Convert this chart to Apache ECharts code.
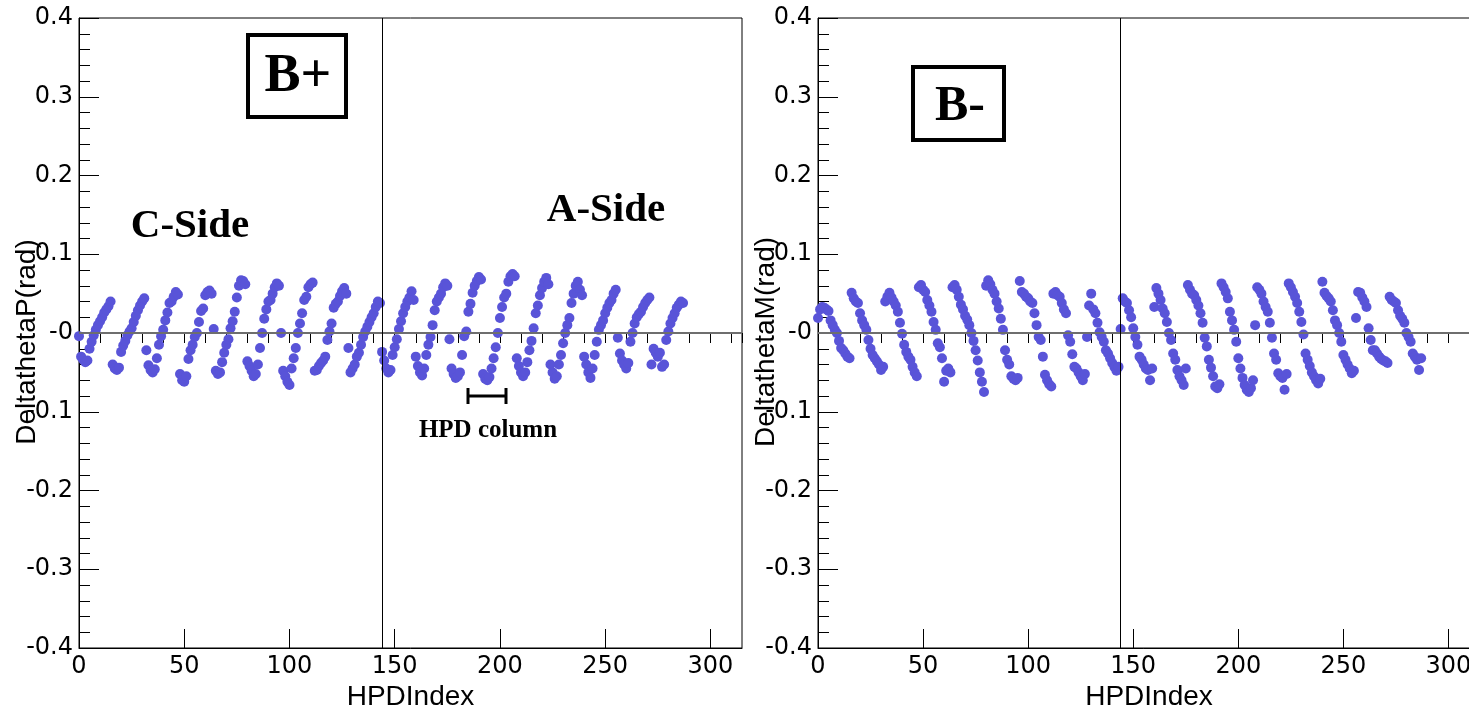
<!DOCTYPE html>
<html>
<head>
<meta charset="utf-8">
<script src="https://cdn.jsdelivr.net/npm/echarts@6/dist/echarts.min.js"></script>
<style>
  html, body { margin: 0; padding: 0; background: #fff; }
  #chart { width: 1469px; height: 714px; }
</style>
</head>
<body>
<div id="chart"></div>
<script>
// HPD alignment residuals, 288 HPDs (18 columns x 16 HPDs), one row per column
const deltaThetaP = [
  -0.004, -0.030, -0.034, -0.037, -0.035, -0.020, -0.011, -0.003, 0.004, 0.010, 0.015, 0.020, 0.026, 0.030, 0.034, 0.040,
  -0.040, -0.045, -0.047, -0.044, -0.024, -0.016, -0.010, -0.003, 0.002, 0.006, 0.014, 0.022, 0.029, 0.035, 0.040, 0.044,
  -0.022, -0.041, -0.047, -0.050, -0.046, -0.032, -0.015, -0.004, 0.004, 0.016, 0.026, 0.038, 0.040, 0.046, 0.052, 0.049,
  -0.052, -0.060, -0.062, -0.055, -0.033, -0.022, -0.015, -0.005, 0.000, 0.014, 0.028, 0.031, 0.048, 0.052, 0.054, 0.050,
  0.005, -0.048, -0.052, -0.050, -0.037, -0.025, -0.015, -0.008, 0.006, 0.015, 0.027, 0.045, 0.060, 0.067, 0.066, 0.062,
  -0.036, -0.042, -0.048, -0.055, -0.052, -0.040, -0.019, 0.000, 0.018, 0.030, 0.040, 0.042, 0.050, 0.058, 0.063, 0.060,
  0.000, -0.048, -0.055, -0.062, -0.066, -0.045, -0.032, -0.019, 0.000, 0.012, 0.025, 0.042, 0.046, 0.058, 0.062, 0.064,
  -0.048, -0.047, -0.042, -0.038, -0.035, -0.030, -0.009, 0.002, 0.012, 0.032, 0.037, 0.040, 0.047, 0.053, 0.057, 0.050,
  -0.019, -0.050, -0.045, -0.040, -0.030, -0.025, -0.015, -0.005, 0.002, 0.008, 0.014, 0.020, 0.025, 0.033, 0.040, 0.038,
  -0.024, -0.035, -0.045, -0.050, -0.047, -0.028, -0.018, -0.008, 0.005, 0.015, 0.025, 0.033, 0.040, 0.045, 0.053, 0.042,
  -0.030, -0.042, -0.050, -0.054, -0.045, -0.028, -0.015, -0.005, 0.010, 0.029, 0.040, 0.045, 0.050, 0.058, 0.063, 0.060,
  -0.008, -0.045, -0.052, -0.057, -0.055, -0.050, -0.028, -0.004, 0.002, 0.027, 0.037, 0.051, 0.060, 0.066, 0.071, 0.068,
  -0.052, -0.058, -0.060, -0.056, -0.045, -0.032, -0.018, 0.000, 0.019, 0.033, 0.045, 0.050, 0.065, 0.072, 0.075, 0.072,
  -0.032, -0.042, -0.050, -0.055, -0.050, -0.037, -0.022, -0.010, 0.006, 0.025, 0.035, 0.048, 0.057, 0.065, 0.070, 0.062,
  -0.040, -0.050, -0.058, -0.055, -0.040, -0.028, -0.013, 0.000, 0.010, 0.019, 0.038, 0.050, 0.060, 0.065, 0.055, 0.048,
  -0.030, -0.040, -0.050, -0.057, -0.045, -0.028, -0.011, 0.004, 0.010, 0.016, 0.025, 0.032, 0.038, 0.042, 0.050, 0.055,
  -0.006, -0.026, -0.035, -0.040, -0.045, -0.038, -0.011, 0.000, 0.012, 0.020, 0.024, 0.027, 0.033, 0.038, 0.042, 0.045,
  -0.040, -0.020, -0.025, -0.030, -0.025, -0.043, -0.040, -0.009, 0.002, 0.012, 0.019, 0.025, 0.032, 0.036, 0.040, 0.038
];

const deltaThetaM = [
  0.019, 0.030, 0.033, 0.032, 0.030, 0.028, 0.016, 0.010, 0.004, 0.000, -0.010, -0.019, -0.022, -0.026, -0.030, -0.032,
  0.051, 0.044, 0.040, 0.038, 0.025, 0.016, 0.010, 0.004, -0.009, -0.020, -0.028, -0.032, -0.036, -0.040, -0.047, -0.043,
  0.040, 0.046, 0.051, 0.045, 0.040, 0.035, 0.027, 0.013, -0.001, -0.015, -0.024, -0.030, -0.034, -0.043, -0.050, -0.055,
  0.058, 0.061, 0.055, 0.052, 0.042, 0.035, 0.027, 0.014, 0.004, -0.013, -0.018, -0.032, -0.062, -0.048, -0.045, -0.050,
  0.058, 0.061, 0.055, 0.046, 0.036, 0.030, 0.022, 0.017, 0.010, 0.000, -0.010, -0.022, -0.035, -0.050, -0.062, -0.075,
  0.060, 0.067, 0.062, 0.055, 0.050, 0.040, 0.031, 0.018, 0.004, -0.022, -0.034, -0.040, -0.055, -0.058, -0.060, -0.057,
  0.066, 0.052, 0.050, 0.046, 0.044, 0.040, 0.038, 0.025, 0.010, -0.005, -0.009, -0.030, -0.053, -0.060, -0.065, -0.068,
  0.050, 0.052, 0.048, 0.046, 0.038, 0.030, 0.025, -0.003, -0.011, -0.027, -0.043, -0.045, -0.050, -0.055, -0.060, -0.052,
  -0.005, 0.035, 0.050, 0.030, 0.025, 0.013, 0.001, -0.005, -0.011, -0.022, -0.026, -0.032, -0.038, -0.043, -0.048, -0.043,
  0.005, 0.044, 0.040, 0.038, 0.029, 0.020, 0.006, -0.005, -0.015, -0.030, -0.034, -0.040, -0.045, -0.047, -0.060, -0.045,
  0.033, 0.057, 0.050, 0.042, 0.031, 0.025, 0.014, 0.000, -0.009, -0.026, -0.034, -0.047, -0.055, -0.060, -0.066, -0.045,
  0.061, 0.055, 0.050, 0.048, 0.042, 0.035, 0.025, 0.013, -0.006, -0.017, -0.034, -0.044, -0.055, -0.068, -0.070, -0.065,
  0.063, 0.058, 0.052, 0.044, 0.027, 0.016, 0.004, -0.011, -0.032, -0.045, -0.057, -0.066, -0.072, -0.075, -0.070, -0.060,
  0.010, 0.058, 0.055, 0.050, 0.040, 0.033, 0.027, 0.013, -0.006, -0.026, -0.034, -0.051, -0.055, -0.057, -0.072, -0.052,
  0.063, 0.058, 0.052, 0.046, 0.038, 0.027, 0.014, -0.002, -0.026, -0.034, -0.042, -0.050, -0.055, -0.060, -0.064, -0.058,
  0.065, 0.051, 0.047, 0.044, 0.040, 0.029, 0.016, 0.010, 0.000, -0.011, -0.028, -0.034, -0.040, -0.045, -0.051, -0.048,
  0.019, 0.052, 0.051, 0.045, 0.040, 0.033, 0.006, -0.009, -0.022, -0.022, -0.026, -0.030, -0.033, -0.035, -0.036, -0.038,
  0.046, 0.042, 0.040, 0.038, 0.029, 0.022, 0.018, 0.013, 0.000, -0.005, -0.011, -0.026, -0.030, -0.034, -0.047, -0.032
];

// Axis ranges and tick labels
const xRange = [0, 315];
const xMajorTicks = [0, 50, 100, 150, 200, 250, 300];
const yRange = [-0.4, 0.4];
const sideBoundary = 144;           // C-side / A-side split
const panelTitles = ['B+', 'B-'];
const yNames = ['DeltathetaP(rad)', 'DeltathetaM(rad)'];
const xName = 'HPDIndex';

const markerColor = '#5954d8';
const tickFont = '"DejaVu Sans", "Liberation Sans", Arial, sans-serif';
const titleFont = '"Liberation Sans", Arial, Helvetica, sans-serif';
const serif = '"Liberation Serif", "Times New Roman", serif';

const chart = echarts.init(document.getElementById('chart'), null, { renderer: 'canvas' });

// the right-hand frame runs past the page edge, as in the printed figure
const grids = [
  { left: 79, top: 18, width: 663, height: 630 },
  { left: 818, top: 18, width: 662, height: 630 }
];

function yLabel(v) {
  if (Math.abs(v) < 1e-9) return '-0';
  return String(Math.round(v * 10) / 10);
}

const xAxes = [];
const yAxes = [];
grids.forEach((g, i) => {
  // labelled axis with the long ticks
  xAxes.push({
    gridIndex: i, type: 'value', min: xRange[0], max: xRange[1],
    name: xName, nameLocation: 'middle', nameGap: 35, nameMoveOverlap: false,
    nameTextStyle: { fontFamily: titleFont, fontSize: 28, color: '#000' },
    axisLine: { show: true, onZero: false, lineStyle: { color: '#000', width: 1 } },
    axisTick: { show: true, inside: true, length: 19, customValues: xMajorTicks, lineStyle: { color: '#000', width: 1 } },
    axisLabel: { show: true, customValues: xMajorTicks, margin: 7, fontFamily: tickFont, fontSize: 24, color: '#000' },
    splitLine: { show: false }
  });
  // short ticks every 10 units
  xAxes.push({
    gridIndex: i, type: 'value', min: xRange[0], max: xRange[1], interval: 10,
    axisLine: { show: false },
    axisTick: { show: true, inside: true, length: 10, lineStyle: { color: '#000', width: 1 } },
    axisLabel: { show: false },
    splitLine: { show: false }
  });
  yAxes.push({
    gridIndex: i, type: 'value', min: yRange[0], max: yRange[1], interval: 0.1,
    name: yNames[i], nameLocation: 'middle', nameGap: 38, nameRotate: 90, nameMoveOverlap: false,
    // extra room on the reading end nudges the title slightly below centre
    nameTextStyle: { fontFamily: titleFont, fontSize: 28, color: '#000', padding: [0, 18, 0, 0] },
    axisLine: { show: true, onZero: false, lineStyle: { color: '#000', width: 1 } },
    axisTick: { show: true, inside: true, length: 20, lineStyle: { color: '#000', width: 1 } },
    minorTick: { show: true, splitNumber: 5, length: 11, lineStyle: { color: '#000', width: 1 } },
    axisLabel: { show: true, margin: 6, fontFamily: tickFont, fontSize: 24, color: '#000', formatter: yLabel },
    splitLine: { show: false },
    minorSplitLine: { show: false }
  });
});

function points(values) {
  return values.map((v, i) => [i, v]);
}

function scatterSeries(values, panel) {
  return {
    type: 'scatter',
    xAxisIndex: panel * 2,
    yAxisIndex: panel,
    data: points(values),
    symbol: 'circle',
    symbolSize: 10,
    itemStyle: { color: markerColor, opacity: 1 },
    silent: true,
    animation: false,
    markLine: {
      silent: true,
      symbol: ['none', 'none'],
      label: { show: false },
      animation: false,
      data: [
        { yAxis: 0, lineStyle: { color: '#6e6e6e', width: 2, type: 'solid' } },
        { xAxis: sideBoundary, lineStyle: { color: '#000', width: 1, type: 'solid' } }
      ]
    }
  };
}

const option = {
  backgroundColor: '#fff',
  animation: false,
  grid: grids.map(g => Object.assign({
    show: true, borderColor: '#000', borderWidth: 1, backgroundColor: 'transparent',
    containLabel: false, outerBoundsMode: 'none'
  }, g)),
  xAxis: xAxes,
  yAxis: yAxes,
  series: [scatterSeries(deltaThetaP, 0), scatterSeries(deltaThetaM, 1)],
  graphic: [
    { type: 'rect', shape: { x: 248, y: 35, width: 98, height: 82 }, style: { fill: 'none', stroke: '#000', lineWidth: 4 } },
    { type: 'text', x: 298, y: 77, style: { text: panelTitles[0], font: 'bold 54px ' + serif, fill: '#000', align: 'center', verticalAlign: 'middle' } },
    { type: 'rect', shape: { x: 913, y: 67, width: 91, height: 73 }, style: { fill: 'none', stroke: '#000', lineWidth: 4 } },
    { type: 'text', x: 960, y: 107, style: { text: panelTitles[1], font: 'bold 50px ' + serif, fill: '#000', align: 'center', verticalAlign: 'middle' } },
    { type: 'text', x: 190, y: 226, style: { text: 'C-Side', font: 'bold 41px ' + serif, fill: '#000', align: 'center', verticalAlign: 'middle' } },
    { type: 'text', x: 606, y: 210, style: { text: 'A-Side', font: 'bold 41px ' + serif, fill: '#000', align: 'center', verticalAlign: 'middle' } },
    { type: 'line', shape: { x1: 468, y1: 396, x2: 506, y2: 396 }, style: { stroke: '#000', lineWidth: 3 } },
    { type: 'line', shape: { x1: 468, y1: 388, x2: 468, y2: 404 }, style: { stroke: '#000', lineWidth: 3 } },
    { type: 'line', shape: { x1: 506, y1: 388, x2: 506, y2: 404 }, style: { stroke: '#000', lineWidth: 3 } },
    { type: 'text', x: 488, y: 431, style: { text: 'HPD column', font: 'bold 25px ' + serif, fill: '#000', align: 'center', verticalAlign: 'middle' } }
  ]
};

chart.setOption(option);
</script>
</body>
</html>
